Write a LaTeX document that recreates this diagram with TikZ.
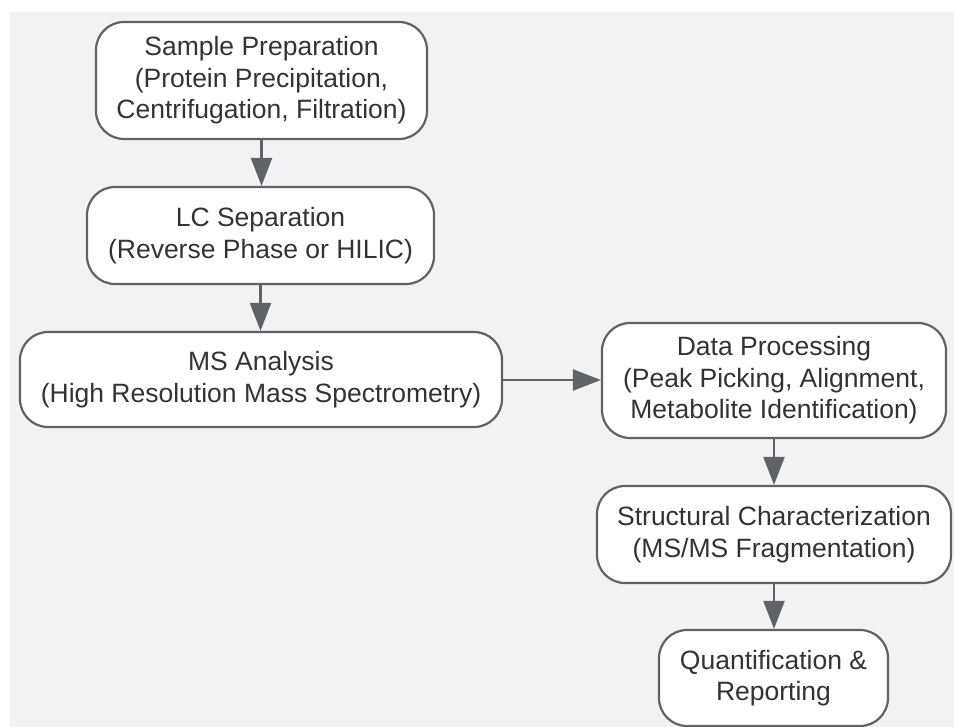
\documentclass[tikz,border=0pt]{standalone}
\usepackage{fontspec}
\setmainfont{Liberation Sans}
\usetikzlibrary{arrows.meta}
\definecolor{bgc}{HTML}{F1F2F4}
\definecolor{edgec}{HTML}{5F6368}
\definecolor{txtc}{HTML}{333333}
\tikzset{
  box/.style={draw=edgec, line width=2.2pt, fill=white, rounded corners=28pt,
    inner sep=0pt, align=center, text=txtc,
    font=\fontsize{26.5}{31.5}\selectfont},
  flow/.style={draw=edgec, line width=2.4pt, -{Triangle[length=28pt,width=21pt]}}
}
\begin{document}
\begin{tikzpicture}[x=1pt,y=-1pt]
\useasboundingbox (0,0) rectangle (954,727);
\fill[white] (0,0) rectangle (954,727);
\fill[bgc] (10,12) rectangle (954,727);
\node[box, minimum width=331pt, minimum height=117pt] (prep) at (261.5,80.5)
  {Sample Preparation\\(Protein Precipitation,\\Centrifugation, Filtration)};
\node[box, minimum width=347pt, minimum height=97pt] (lc) at (260.5,235.5)
  {LC Separation\\(Reverse Phase or HILIC)};
\node[box, minimum width=482pt, minimum height=95pt] (ms) at (261,379.5)
  {MS Analysis\\(High Resolution Mass Spectrometry)};
\node[box, minimum width=344pt, minimum height=115pt] (dp) at (774,380.5)
  {Data Processing\\(Peak Picking, Alignment,\\Metabolite Identification)};
\node[box, minimum width=354pt, minimum height=97pt] (sc) at (774,534.5)
  {Structural Characterization\\(MS/MS Fragmentation)};
\node[box, minimum width=229pt, minimum height=96pt] (qr) at (773.5,678)
  {Quantification \&\\Reporting};
\draw[flow] (prep.south) -- (prep.south |- lc.north);
\draw[flow] (lc.south) -- (lc.south |- ms.north);
\draw[flow] (ms.east |- 0,380) -- (dp.west |- 0,380);
\draw[flow] (dp.south) -- (dp.south |- sc.north);
\draw[flow] (sc.south) -- (sc.south |- qr.north);
\end{tikzpicture}
\end{document}
